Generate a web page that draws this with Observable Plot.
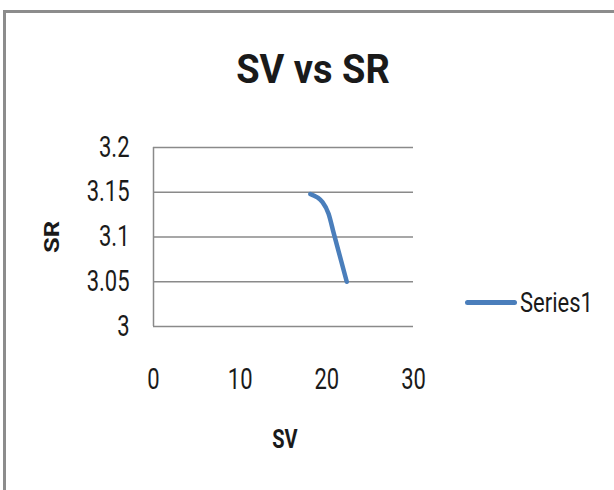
<!DOCTYPE html>
<html>
<head>
<meta charset="utf-8">
<script src="https://cdn.jsdelivr.net/npm/d3@7"></script>
<script src="https://cdn.jsdelivr.net/npm/@observablehq/plot@0.6"></script>
<style>
  html, body { margin: 0; padding: 0; background: #fff; }
  body { width: 614px; height: 490px; overflow: hidden; position: relative;
         font-family: Roboto, "Open Sans", sans-serif; color: #1a1a1a; }
  #frame { position: absolute; left: 3px; top: 10px; width: 640px; height: 520px;
           border-top: 3px solid #8c8c8c; border-left: 3px solid #8c8c8c; box-sizing: border-box; }
  #title { position: absolute; left: 0; width: 614px; top: 46px; text-align: center;
           font-weight: bold; font-size: 38px; line-height: 46px; margin-left: 6px; transform: scaleY(1.08); }
  #chart { position: absolute; left: 0; top: 120px; }
  #ylabel { position: absolute; left: 52px; top: 237px; transform: translate(-50%, -50%) rotate(-90deg) scaleX(1.28);
            font-weight: bold; font-size: 20px; }
  #xlabel { position: absolute; left: 285px; top: 439px; transform: translate(-50%, -50%) scaleY(1.28);
            font-weight: bold; font-size: 20px; }
  #legend { position: absolute; left: 465px; top: 290px; display: flex; align-items: center; font-size: 22px; }
  #legend span { display: inline-block; transform: scaleY(1.28); }
  #legend .swatch { width: 52px; height: 5px; background: #4a7ebb; border-radius: 3px; margin-right: 3px; }
</style>
</head>
<body>
<div id="frame"></div>
<div id="title">SV vs SR</div>
<div id="chart"></div>
<div id="ylabel">SR</div>
<div id="xlabel">SV</div>
<div id="legend"><div class="swatch"></div><span id="legendText"></span></div>
<script>
// Data
const seriesName = "Series1";
const sv = [18.1, 19.5, 20.2, 20.8, 22.3];
const sr = [3.148, 3.139, 3.126, 3.104, 3.05];
const xTicks = [0, 10, 20, 30];
const yTicks = [3, 3.05, 3.1, 3.15, 3.2];
const yTickLabels = ["3", "3.05", "3.1", "3.15", "3.2"];

const data = sv.map((x, i) => ({x, y: sr[i]}));
document.getElementById("legendText").textContent = seriesName;

const chart = Plot.plot({
  width: 614,
  height: 290,
  marginLeft: 153,
  marginRight: 201,
  marginTop: 27,
  marginBottom: 84,
  style: { fontFamily: 'Roboto, "Open Sans", sans-serif', color: "#1a1a1a", background: "transparent" },
  x: { domain: [0, 30] },
  y: { domain: [3, 3.2] },
  marks: [
    Plot.gridY(yTicks, { stroke: "#8a8a8a", strokeOpacity: 1, strokeWidth: 1.5 }),
    Plot.ruleX([0], { y1: 3, y2: 3.2, stroke: "#8a8a8a", strokeWidth: 1.5 }),
    Plot.axisY(yTicks, { tickSize: 0, tickPadding: 24, fontSize: 22, tickFormat: (d) => yTickLabels[yTicks.indexOf(d)], label: null }),
    Plot.axisX(xTicks, { tickSize: 0, tickPadding: 42, fontSize: 22, label: null }),
    Plot.line(data, { x: "x", y: "y", stroke: "#4a7ebb", strokeWidth: 4.5, curve: "monotone-x", strokeLinecap: "round" })
  ]
});
// stretch tick labels vertically (the reference text is tall and narrow)
chart.querySelectorAll("text").forEach(t => {
  const tr = t.getAttribute("transform") || "";
  t.setAttribute("transform", `${tr} scale(1,1.3)`);
});
document.getElementById("chart").appendChild(chart);
</script>
</body>
</html>
